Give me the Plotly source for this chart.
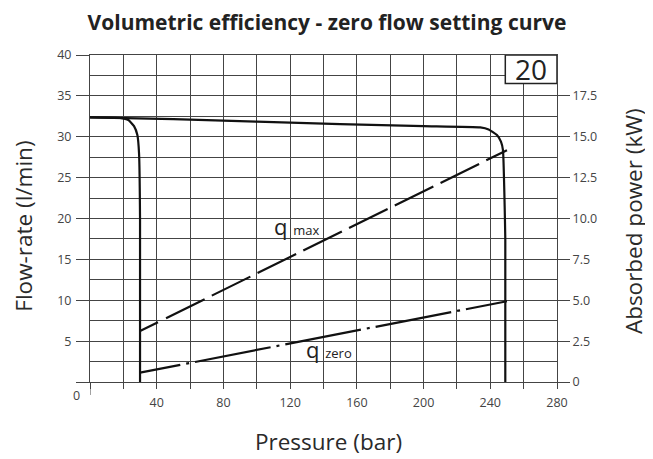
import plotly.graph_objects as go

# ---- data ----
# flow-rate curve, low pressure setting (bar, l/min)
low_p = [0, 10, 18, 23, 26.4, 28.4, 29.4, 30, 30]
low_q = [32.37, 32.34, 32.29, 32.04, 31.3, 30.2, 27.96, 19.9, 0]
# flow-rate curve, max pressure setting (bar, l/min)
high_p = [0, 50, 100, 150, 200, 234, 239, 244, 246.4, 247.6, 249, 249]
high_q = [32.37, 32.15, 31.85, 31.55, 31.3, 31.15, 30.9, 30.2, 29.4, 28.37, 17.35, 0]
# absorbed power lines (bar, kW)
qmax_p = [30, 250]
qmax_kw = [3.12, 14.18]
qzero_p = [30, 250]
qzero_kw = [0.57, 4.94]

x_ticks = [40, 80, 120, 160, 200, 240, 280]
y_ticks = [0, 5, 10, 15, 20, 25, 30, 35, 40]
y_ticktext = ["", "5", "10", "15", "20", "25", "30", "35", "40"]
y2_ticks = [0, 2.5, 5.0, 7.5, 10.0, 12.5, 15.0, 17.5]
y2_ticktext = ["0", "2.5", "5.0", "7.5", "10.0", "12.5", "15.0", "17.5"]

GRID = "#444444"
TICKFONT = dict(family="Open Sans", size=12.5, color="#444444")
TITLEFONT = dict(family="Open Sans", size=22.5, color="#2a2a2a")

# page offset of the figure (browser body margin)
OFF = 8
PL, PR, PT, PB = 90, 556.7, 55, 382.5          # plot area in page pixels
W, H = 653, 459
PW, PH = PR - PL, PB - PT

def px(xp):
    return (xp - PL) / PW

def py(yp):
    return (PB - yp) / PH

fig = go.Figure()
fig.add_trace(go.Scatter(x=low_p, y=low_q, mode="lines",
                         line=dict(color="#111111", width=2.2, shape="spline", smoothing=0.4),
                         showlegend=False, hoverinfo="skip"))
fig.add_trace(go.Scatter(x=high_p, y=high_q, mode="lines",
                         line=dict(color="#111111", width=2.2, shape="spline", smoothing=0.4),
                         showlegend=False, hoverinfo="skip"))
fig.add_trace(go.Scatter(x=qmax_p, y=qmax_kw, mode="lines", yaxis="y2",
                         line=dict(color="#111111", width=2.2,
                                   dash="20px,9px" + ",43px,8px" * 8),
                         showlegend=False, hoverinfo="skip"))
fig.add_trace(go.Scatter(x=qzero_p, y=qzero_kw, mode="lines", yaxis="y2",
                         line=dict(color="#111111", width=2.2,
                                   dash="41px,6px,3px,6px" + ",77px,6px,3px,6px" * 4),
                         showlegend=False, hoverinfo="skip"))

fig.update_layout(
    width=W, height=H,
    margin=dict(l=PL - OFF, r=W - (PR - OFF), t=PT - OFF, b=H - (PB - OFF)),
    paper_bgcolor="white", plot_bgcolor="white",
    title=dict(text="<b>Volumetric efficiency - zero flow setting curve</b>",
               x=(327 - OFF) / W, xanchor="center", y=1 - (22.5 - OFF) / H, yanchor="middle",
               font=dict(family="Open Sans", size=21, color="#222222")),
    xaxis=dict(range=[0, 280], tickvals=x_ticks, ticks="outside", ticklen=6,
               tickcolor=GRID, tickwidth=1, tickfont=TICKFONT, ticklabelstandoff=3,
               showgrid=True, gridcolor=GRID, gridwidth=1,
               minor=dict(dtick=20, tick0=0, showgrid=True, gridcolor=GRID, gridwidth=1,
                          ticks="outside", ticklen=6, tickcolor=GRID),
               showline=True, mirror=True, linecolor=GRID, linewidth=1,
               zeroline=False, fixedrange=True, automargin=False),
    yaxis=dict(range=[0, 40], tickvals=y_ticks, ticktext=y_ticktext,
               ticks="outside", ticklen=13, tickcolor=GRID, tickwidth=1, tickfont=TICKFONT,
               ticklabelstandoff=2,
               showgrid=True, gridcolor=GRID, gridwidth=1,
               minor=dict(dtick=2.5, tick0=0, showgrid=True, gridcolor=GRID, gridwidth=1, ticks=""),
               showline=True, mirror=True, linecolor=GRID, linewidth=1,
               zeroline=False, fixedrange=True, automargin=False),
    yaxis2=dict(range=[0, 20], overlaying="y", side="right", tickvals=y2_ticks,
                ticktext=y2_ticktext, ticks="outside", ticklen=12, tickcolor=GRID,
                tickwidth=1, tickfont=TICKFONT, showgrid=False, zeroline=False,
                showline=False, fixedrange=True, automargin=False),
)

fig.add_shape(type="rect", x0=249, x1=280, y0=36.5, y1=40, xref="x", yref="y",
              fillcolor="white", line=dict(color="#222222", width=1.5), layer="above")
fig.add_shape(type="line", x0=0, x1=0, y0=0, y1=-13 / PH, xref="x", yref="paper",
              line=dict(color=GRID, width=1))

ann_font = dict(family="Open Sans", size=22, color="#222222")
fig.add_annotation(x=123.7, y=19.06, xref="x", yref="y", showarrow=False,
                   text="q <span style='font-size:13px'>max</span>", font=ann_font)
fig.add_annotation(x=143.5, y=4.06, xref="x", yref="y", showarrow=False,
                   text="q <span style='font-size:13px'>zero</span>", font=ann_font)
fig.add_annotation(x=264.5, y=38.26, xref="x", yref="y", showarrow=False,
                   text="20", font=dict(family="Open Sans", size=28, color="#222222"))
common = dict(xref="paper", yref="paper", showarrow=False, xanchor="center", yanchor="middle")
fig.add_annotation(x=px(77), y=py(396), text="0", font=TICKFONT, **common)
fig.add_annotation(x=px(24), y=py(226), text="Flow-rate (l/min)", textangle=-90,
                   font=TITLEFONT, **common)
fig.add_annotation(x=px(633), y=py(221), text="Absorbed power (kW)", textangle=-90,
                   font=TITLEFONT, **common)
fig.add_annotation(x=px(328), y=py(442), text="Pressure (bar)", font=TITLEFONT, **common)

fig.write_html("out.html")
